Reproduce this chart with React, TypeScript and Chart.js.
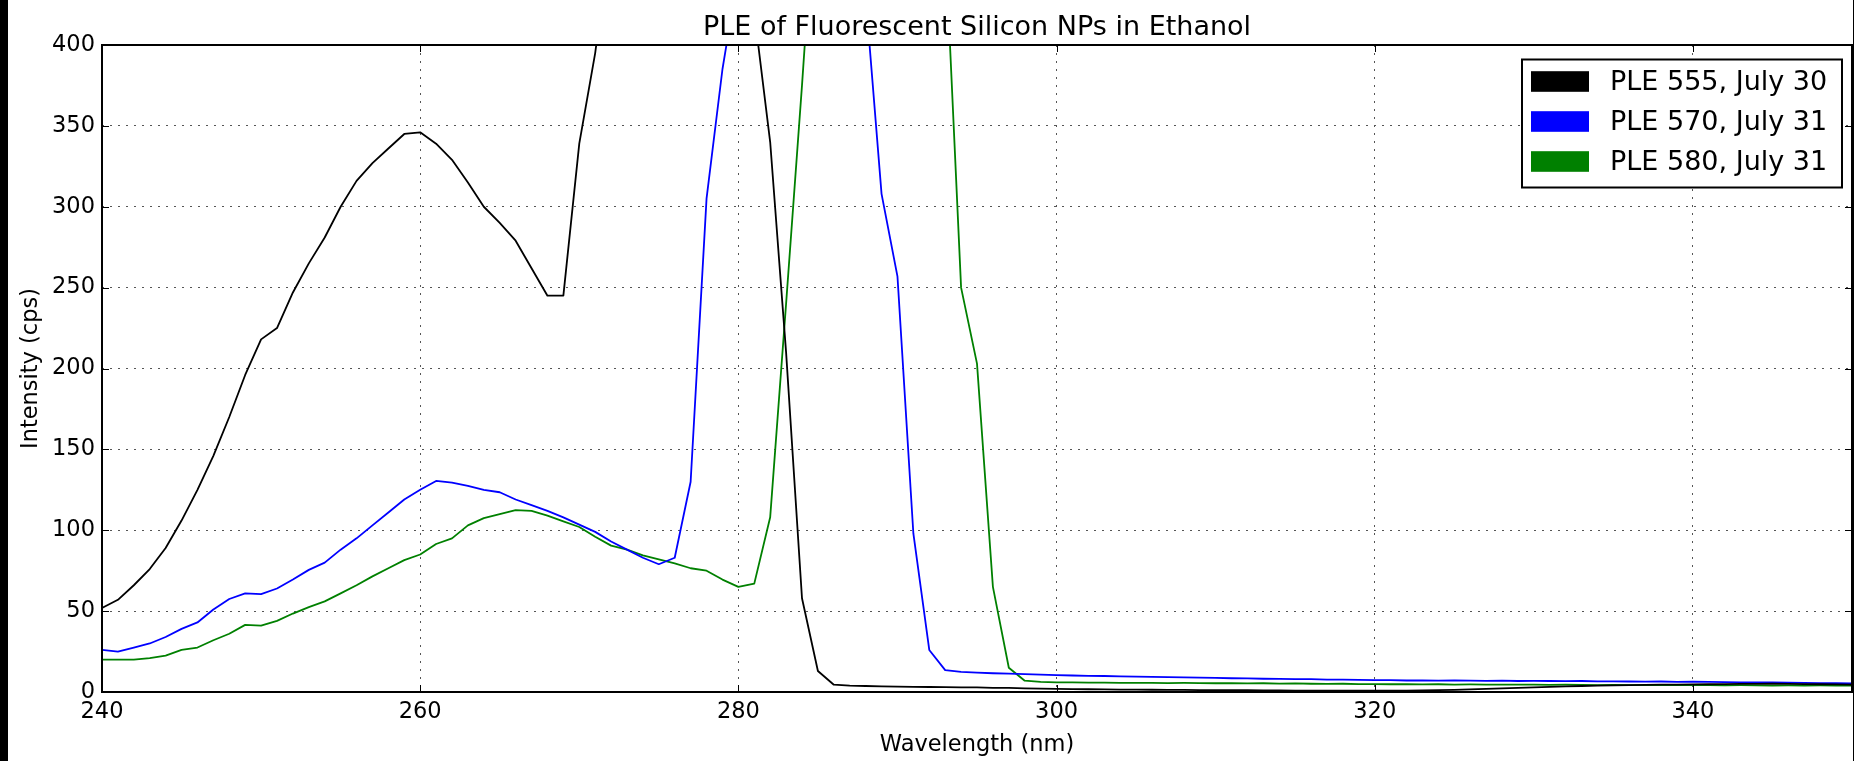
import React, { useEffect, useRef } from 'react';
import { Chart, registerables } from 'chart.js';

Chart.register(...registerables);

const wavelengths = [
  240, 241, 242, 243, 244, 245, 246, 247, 248, 249,
  250, 251, 252, 253, 254, 255, 256, 257, 258, 259,
  260, 261, 262, 263, 264, 265, 266, 267, 268, 269,
  270, 271, 272, 273, 274, 275, 276, 277, 278, 279,
  280, 281, 282, 283, 284, 285, 286, 287, 288, 289,
  290, 291, 292, 293, 294, 295, 296, 297, 298, 299,
  300, 301, 302, 303, 304, 305, 306, 307, 308, 309,
  310, 311, 312, 313, 314, 315, 316, 317, 318, 319,
  320, 321, 322, 323, 324, 325, 326, 327, 328, 329,
  330, 331, 332, 333, 334, 335, 336, 337, 338, 339,
  340, 341, 342, 343, 344, 345, 346, 347, 348, 349,
  350,
];

const ple555July30 = [
  52, 57, 66, 76, 89, 106, 125, 146, 170, 196,
  218, 225, 247, 265, 281, 300, 316, 327, 336, 345,
  346, 339, 329, 315, 300, 290, 279, 262, 245, 245,
  339, 395, 470, 560, 640, 700, 730, 720, 660, 580,
  490, 420, 340, 210, 58, 13, 4.5, 3.9, 3.7, 3.5,
  3.3, 3.2, 3.1, 3.0, 2.9, 2.8, 2.6, 2.5, 2.3, 2.1,
  1.9, 1.8, 1.7, 1.6, 1.5, 1.5, 1.4, 1.3, 1.3, 1.2,
  1.2, 1.1, 1.1, 1.0, 1.0, 0.9, 0.9, 0.9, 0.8, 0.8,
  0.8, 0.9, 0.9, 1.0, 1.1, 1.3, 1.6, 1.9, 2.3, 2.6,
  2.9, 3.2, 3.5, 3.7, 3.9, 4.1, 4.3, 4.4, 4.5, 4.6,
  4.7, 4.8, 4.9, 5.0, 5.0, 5.1, 5.0, 4.9, 4.8, 4.7,
  4.6,
];

const ple570July31 = [
  26, 25, 27.5, 30, 34, 39, 43, 51, 57.5, 61,
  60.5, 64, 69.5, 75.5, 80, 88, 95, 103, 111, 119,
  125, 130.5, 129.5, 127.5, 125, 123.5, 119, 115.5, 112, 108,
  103.5, 99, 93, 88, 83, 79, 83, 130, 305, 385,
  445, 520, 580, 620, 630, 610, 570, 510, 430, 308,
  257, 98, 26, 13.5, 12.5, 12, 11.6, 11.3, 11, 10.7,
  10.4, 10.2, 10, 9.9, 9.7, 9.5, 9.4, 9.2, 9.1, 8.9,
  8.7, 8.5, 8.4, 8.2, 8.1, 8, 7.9, 7.7, 7.6, 7.5,
  7.4, 7.3, 7.1, 7.2, 7.0, 7.1, 7.0, 6.9, 7.0, 6.8,
  6.9, 6.8, 6.7, 6.8, 6.6, 6.6, 6.5, 6.4, 6.5, 6.3,
  6.4, 6.2, 6.1, 6.0, 6.0, 5.9, 5.8, 5.7, 5.5, 5.4,
  5.3,
];

const ple580July31 = [
  20, 20, 20, 21, 22.5, 26, 27.5, 32, 36, 41.5,
  41, 44, 48.5, 52.5, 56, 61, 66, 71.5, 76.5, 81.5,
  85, 91.5, 95, 103, 107.5, 110, 112.5, 112, 109, 105.5,
  102, 96, 90.5, 88, 84.5, 82, 79.5, 76.5, 75, 69.5,
  65, 67, 108, 240, 375, 520, 600, 650, 670, 660,
  630, 580, 520, 465, 250, 203, 65, 15, 7, 6.3,
  6.0, 5.9, 5.8, 5.8, 5.7, 5.6, 5.7, 5.5, 5.6, 5.5,
  5.4, 5.5, 5.3, 5.4, 5.2, 5.3, 5.1, 5.0, 5.1, 4.9,
  4.9, 4.8, 4.9, 4.7, 4.8, 4.6, 4.7, 4.6, 4.5, 4.6,
  4.5, 4.4, 4.5, 4.4, 4.3, 4.4, 4.3, 4.2, 4.3, 4.2,
  4.3, 4.2, 4.1, 4.2, 4.1, 4.0, 4.1, 4.0, 4.1, 4.0,
  4.0,
];

const seriesLabels = ['PLE 555, July 30', 'PLE 570, July 31', 'PLE 580, July 31'];
const seriesColors = ['#000000', '#0000ff', '#008000'];
const xTickValues = [240, 260, 280, 300, 320, 340];
const yTickValues = [0, 50, 100, 150, 200, 250, 300, 350, 400];
const titleText = 'PLE of Fluorescent Silicon NPs in Ethanol';
const xAxisTitle = 'Wavelength (nm)';
const yAxisTitle = 'Intensity (cps)';

const FONT = "'DejaVu Sans', 'Liberation Sans', sans-serif";
const W = 1854;
const H = 761;

export default function App() {
  const ref = useRef<HTMLCanvasElement | null>(null);

  useEffect(() => {
    document.body.style.margin = '0';
    const canvas = ref.current;
    if (!canvas) return;

    const decor = {
      id: 'decor',
      beforeDraw(chart: any) {
        const ctx = chart.ctx;
        ctx.save();
        ctx.fillStyle = '#ffffff';
        ctx.fillRect(0, 0, W, H);
        ctx.fillStyle = '#000000';
        ctx.fillRect(0, 0, 8, H);
        ctx.fillRect(1853, 0, 1, H);
        ctx.restore();
      },
      afterDraw(chart: any) {
        const ctx = chart.ctx;
        const a = chart.chartArea;
        const xs = chart.scales.x;
        const ys = chart.scales.y;
        ctx.save();
        // inner ticks
        ctx.strokeStyle = '#000';
        ctx.lineWidth = 1;
        const tl = 7;
        ctx.beginPath();
        xTickValues.forEach((v) => {
          const px = Math.round(xs.getPixelForValue(v)) + 0.5;
          ctx.moveTo(px, a.bottom);
          ctx.lineTo(px, a.bottom - tl);
          ctx.moveTo(px, a.top);
          ctx.lineTo(px, a.top + tl);
        });
        yTickValues.forEach((v) => {
          const py = Math.round(ys.getPixelForValue(v)) + 0.5;
          ctx.moveTo(a.left, py);
          ctx.lineTo(a.left + tl, py);
          ctx.moveTo(a.right, py);
          ctx.lineTo(a.right - tl, py);
        });
        ctx.stroke();
        // frame
        ctx.lineWidth = 2;
        ctx.strokeRect(a.left, a.top, a.right - a.left, a.bottom - a.top);

        // legend
        const lx = 1522;
        const ly = 59.5;
        const lw = 320;
        const lh = 128;
        ctx.fillStyle = '#ffffff';
        ctx.fillRect(lx, ly, lw, lh);
        ctx.lineWidth = 2;
        ctx.strokeStyle = '#000';
        ctx.strokeRect(lx, ly, lw, lh);
        ctx.font = `27px ${FONT}`;
        ctx.textBaseline = 'middle';
        ctx.textAlign = 'left';
        chart.data.datasets.forEach((ds: any, i: number) => {
          const cy = 81.5 + i * 40;
          ctx.fillStyle = ds.borderColor;
          ctx.fillRect(1531, cy - 10.3, 58, 20.6);
          ctx.fillStyle = '#000';
          ctx.fillText(ds.label, 1610, cy + 1);
        });
        ctx.restore();
      },
    };

    const tickFont = { family: FONT, size: 22.5 };

    const chart = new Chart(canvas, {
      type: 'line',
      data: {
        labels: wavelengths,
        datasets: [
          { label: seriesLabels[0], data: ple555July30, borderColor: seriesColors[0], backgroundColor: seriesColors[0] },
          { label: seriesLabels[1], data: ple570July31, borderColor: seriesColors[1], backgroundColor: seriesColors[1] },
          { label: seriesLabels[2], data: ple580July31, borderColor: seriesColors[2], backgroundColor: seriesColors[2] },
        ],
      },
      options: {
        animation: false,
        responsive: false,
        devicePixelRatio: 1,
        layout: { padding: { left: 0, right: 2, top: 0, bottom: 0 } },
        elements: {
          point: { radius: 0, hoverRadius: 0 },
          line: { tension: 0, borderWidth: 1.8, borderJoinStyle: 'round', fill: false },
        },
        plugins: {
          legend: { display: false },
          tooltip: { enabled: false },
          title: {
            display: true,
            fullSize: false,
            text: titleText,
            color: '#000',
            font: { family: FONT, size: 27, weight: 'normal' },
            padding: { top: 12, bottom: 0.6 },
          },
        },
        scales: {
          x: {
            type: 'linear',
            min: 240,
            max: 350,
            afterBuildTicks: (s: any) => {
              s.ticks = xTickValues.map((v) => ({ value: v }));
            },
            afterFit: (s: any) => {
              s.height = 69;
            },
            grid: { color: '#555', lineWidth: 1, drawTicks: false },
            border: { display: false, dash: [2, 6] },
            ticks: { padding: 6.5, font: tickFont, color: '#000', maxRotation: 0, autoSkip: false },
            title: { display: true, text: xAxisTitle, color: '#000', font: tickFont, padding: { top: 0, bottom: 2.5 } },
          },
          y: {
            type: 'linear',
            min: 0,
            max: 400,
            afterBuildTicks: (s: any) => {
              s.ticks = yTickValues.map((v) => ({ value: v }));
            },
            afterFit: (s: any) => {
              s.width = 102;
            },
            grid: { color: '#555', lineWidth: 1, drawTicks: false },
            border: { display: false, dash: [2, 6] },
            ticks: { padding: 7, font: tickFont, color: '#000', autoSkip: false },
            title: { display: true, text: yAxisTitle, color: '#000', font: tickFont, padding: { top: 18, bottom: 0 } },
          },
        },
      },
      plugins: [decor],
    } as any);

    return () => chart.destroy();
  }, []);

  return (
    <div style={{ position: 'absolute', left: 0, top: 0, width: W, height: H }}>
      <canvas ref={ref} width={W} height={H} style={{ display: 'block' }} />
    </div>
  );
}
